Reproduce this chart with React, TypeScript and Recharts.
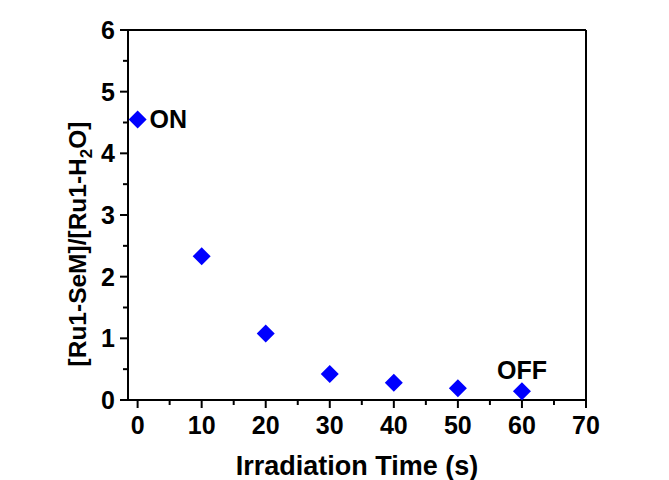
import React from 'react';
import { ScatterChart, Scatter, XAxis, YAxis, ReferenceDot, ReferenceLine, Label } from 'recharts';

const times = [0, 10, 20, 30, 40, 50, 60];
const ratios = [4.55, 2.33, 1.08, 0.42, 0.28, 0.19, 0.14];
const xTicks = [0, 5, 10, 15, 20, 25, 30, 35, 40, 45, 50, 55, 60, 65, 70];
const yTicks = [0, 0.5, 1, 1.5, 2, 2.5, 3, 3.5, 4, 4.5, 5, 5.5, 6];
const notes = [
  { x: 0, y: 4.55, text: 'ON', pos: 'right' },
  { x: 60, y: 0.48, text: 'OFF', pos: 'center' },
];

const data = times.map((t, i) => ({ t, r: ratios[i] }));
const FONT = 'Liberation Sans, Arial, sans-serif';

const Diamond = (props: any) => {
  const { cx, cy } = props;
  const s = 9;
  return <polygon points={`${cx},${cy - s} ${cx + s},${cy} ${cx},${cy + s} ${cx - s},${cy}`} fill="#0000FF" />;
};

const YTick = (props: any) => {
  const { x, y, payload } = props;
  const major = Number.isInteger(payload.value);
  return (
    <g>
      <line x1={x} x2={x - (major ? 8 : 5)} y1={y} y2={y} stroke="#000" strokeWidth={2} />
      {major && (
        <text x={x - 13} y={y} dy={9} textAnchor="end" fontFamily={FONT} fontWeight="bold" fontSize={25} fill="#000">
          {payload.value}
        </text>
      )}
    </g>
  );
};

const XTick = (props: any) => {
  const { x, y, payload } = props;
  const major = payload.value % 10 === 0;
  return (
    <g>
      <line x1={x} x2={x} y1={y} y2={y + (major ? 8 : 5)} stroke="#000" strokeWidth={2} />
      {major && (
        <text x={x} y={y + 34} textAnchor="middle" fontFamily={FONT} fontWeight="bold" fontSize={25} fill="#000">
          {payload.value}
        </text>
      )}
    </g>
  );
};

export default function App() {
  return (
    <div style={{ position: 'absolute', left: 0, top: 0, background: '#fff' }}>
      <ScatterChart width={669} height={480} margin={{ top: 30, right: 83, bottom: 0, left: 0 }}>
        <XAxis
          type="number"
          dataKey="t"
          domain={[-1.5, 70]}
          ticks={xTicks}
          interval={0}
          allowDataOverflow
          height={80}
          tickSize={0}
          tickMargin={0}
          tickLine={false}
          axisLine={{ stroke: '#000', strokeWidth: 2 }}
          tick={<XTick />}
        />
        <YAxis
          type="number"
          dataKey="r"
          domain={[0, 6]}
          ticks={yTicks}
          interval={0}
          width={128}
          tickSize={0}
          tickMargin={0}
          tickLine={false}
          axisLine={{ stroke: '#000', strokeWidth: 2 }}
          tick={<YTick />}
        />
        <ReferenceLine y={6} stroke="#000" strokeWidth={2} />
        <ReferenceLine x={70} stroke="#000" strokeWidth={2} />
        <Scatter data={data} shape={<Diamond />} isAnimationActive={false} />
        {notes.map((n) => (
          <ReferenceDot key={n.text} x={n.x} y={n.y} r={0} fill="none" stroke="none">
            <Label
              content={(p: any) => {
                const vb = p.viewBox || {};
                const cx = (vb.x ?? 0) + (vb.width ?? 0) / 2;
                const cy = (vb.y ?? 0) + (vb.height ?? 0) / 2;
                return (
                  <text
                    x={n.pos === 'right' ? cx + 12 : cx}
                    y={cy + 9}
                    textAnchor={n.pos === 'right' ? 'start' : 'middle'}
                    fontFamily={FONT}
                    fontWeight="bold"
                    fontSize={25}
                    fill="#000"
                  >
                    {n.text}
                  </text>
                );
              }}
            />
          </ReferenceDot>
        ))}
        <text x={357} y={475} textAnchor="middle" fontFamily={FONT} fontWeight="bold" fontSize={27} fill="#000">
          Irradiation Time (s)
        </text>
        <text
          transform="translate(86,244) rotate(-90)"
          textAnchor="middle"
          fontFamily={FONT}
          fontWeight="bold"
          fontSize={24.5}
          fill="#000"
        >
          [Ru1-SeM]/[Ru1-H
          <tspan fontSize={17} dy={6}>2</tspan>
          <tspan dy={-6}>O]</tspan>
        </text>
      </ScatterChart>
    </div>
  );
}
